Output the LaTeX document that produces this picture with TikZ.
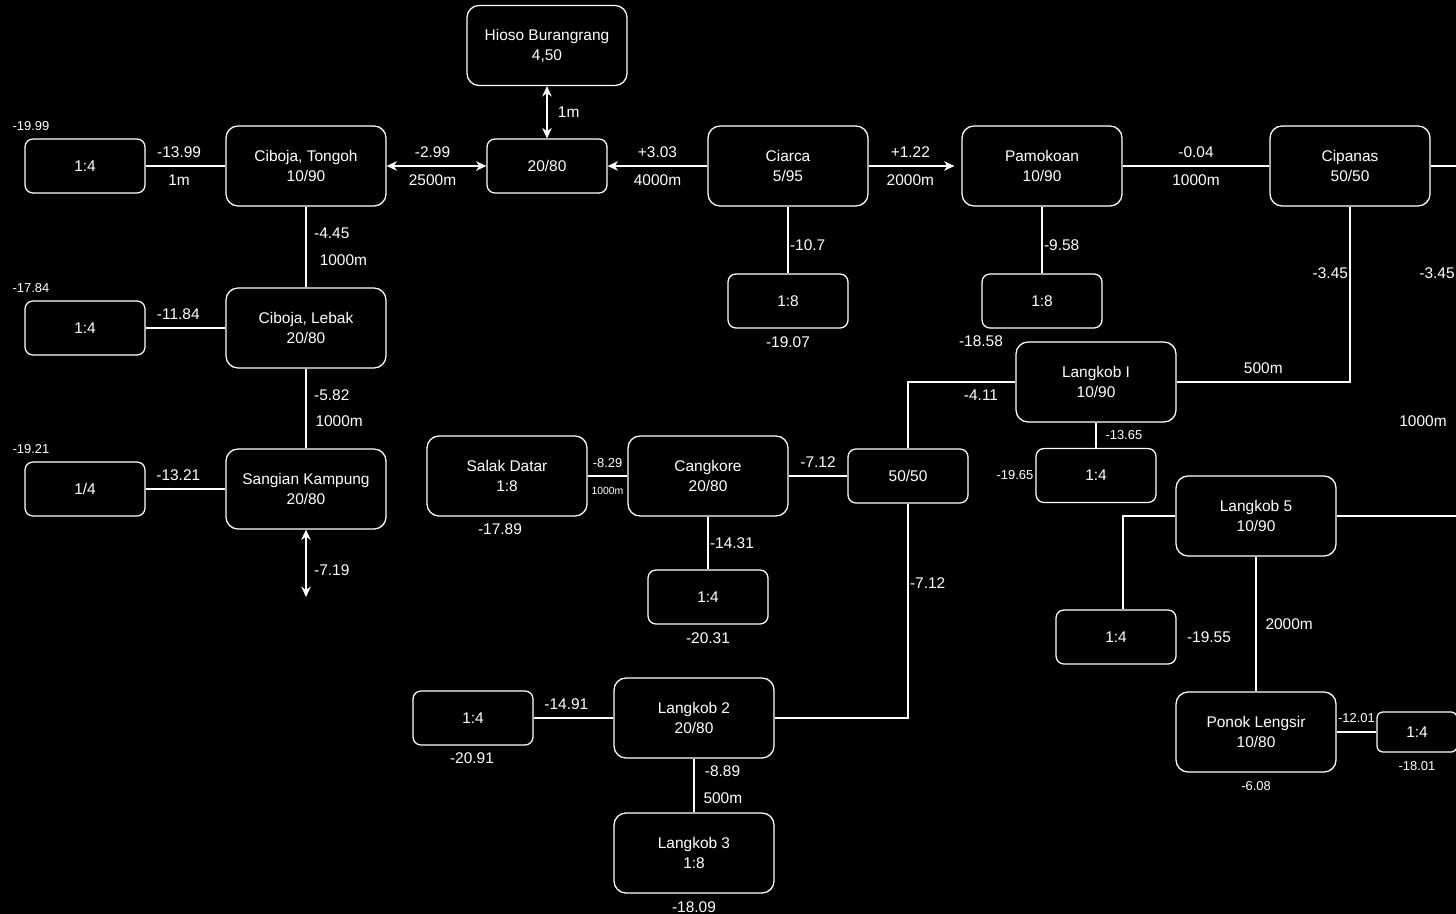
\documentclass[tikz,border=0pt]{standalone}
\usepackage{fontspec}
\setmainfont{Liberation Sans}
\usetikzlibrary{arrows.meta, positioning}

\begin{document}
\begin{tikzpicture}[
        x=0.25mm, y=-0.25mm,
        font=\fontsize{11}{14.2}\selectfont,
        every node/.style={text=white},
        station/.style={rectangle, draw=white, line width=0.9pt, rounded corners=3mm, minimum width=40mm, minimum height=20mm, align=center, inner sep=1pt},
        tapbox/.style={rectangle, draw=white, line width=0.9pt, rounded corners=2mm, minimum width=30mm, minimum height=13.5mm, align=center, inner sep=1pt},
        pipe/.style={draw=white, line width=0.9pt},
        arrow/.style={pipe, -{Stealth[length=2.6mm, width=2.4mm]}},
        twoway/.style={pipe, {Stealth[length=2.6mm, width=2.4mm]}-{Stealth[length=2.6mm, width=2.4mm]}},
        small/.style={font=\fontsize{9.2}{11}\selectfont},
        tiny/.style={font=\fontsize{7.4}{9}\selectfont}
    ]
        \fill[black] (0,0) rectangle (1456,914);
        \useasboundingbox (0,0) rectangle (1456,914);

        % top row
        \node[station] (hioso) at (547,45.5) {Hioso Burangrang\\4,50};
        \node[tapbox] (junction) at (547,166) {20/80};
        \node[station] (tongoh) at (306,166) {Ciboja, Tongoh\\10/90};
        \node[tapbox] (tongohtap) at (85,166) {1:4};
        \node[station] (ciarca) at (788,166) {Ciarca\\5/95};
        \node[tapbox] (ciarcatap) at (788,301) {1:8};
        \node[station] (pamokoan) at (1042,166) {Pamokoan\\10/90};
        \node[tapbox] (pamokoantap) at (1042,301) {1:8};
        \node[station] (cipanas) at (1350,166) {Cipanas\\50/50};
        \coordinate (cipanasout) at (1456,166);

        % left column
        \node[station] (lebak) at (306,328) {Ciboja, Lebak\\20/80};
        \node[tapbox] (lebaktap) at (85,328) {1:4};
        \node[station] (sangian) at (306,489) {Sangian Kampung\\20/80};
        \node[tapbox] (sangiantap) at (85,489) {1/4};
        \coordinate (sangianout) at (306,597);

        % middle
        \node[station] (salak) at (507,476) {Salak Datar\\1:8};
        \node[station] (cangkore) at (708,476) {Cangkore\\20/80};
        \node[tapbox] (cangkoretap) at (708,597) {1:4};
        \node[tapbox] (split) at (908,476) {50/50};
        \node[station] (langkob2) at (694,718) {Langkob 2\\20/80};
        \node[tapbox] (langkob2tap) at (473,718) {1:4};
        \node[station] (langkob3) at (694,853) {Langkob 3\\1:8};

        % right
        \node[station] (langkob1) at (1096,382) {Langkob I\\10/90};
        \node[tapbox] (langkob1tap) at (1096,475.5) {1:4};
        \node[station] (langkob5) at (1256,516) {Langkob 5\\10/90};
        \node[tapbox] (langkob5tap) at (1116,637) {1:4};
        \coordinate (langkob5out) at (1456,516);
        \node[station] (ponok) at (1256,732) {Ponok Lengsir\\10/80};
        \node[tapbox, minimum width=20mm, minimum height=10mm, rounded corners=1.5mm] (ponoktap) at (1417,732) {1:4};

        % connectors
        \draw[pipe] (tongohtap) -- node[pos=0.42, above=2.3pt] {-13.99} node[pos=0.42, below=2.3pt] {1m} (tongoh);
        \draw[twoway] (tongoh) -- node[pos=0.46, above=2.3pt] {-2.99} node[pos=0.46, below=2.3pt] {2500m} (junction);
        \draw[twoway] (hioso) -- node[right=4pt] {1m} (junction);
        \draw[arrow] (ciarca) -- node[above=2.3pt] {+3.03} node[below=2.3pt] {4000m} (junction);
        \draw[arrow, shorten >=1.75mm] (ciarca) -- node[pos=0.45, above=2.3pt] {+1.22} node[pos=0.45, below=2.3pt] {2000m} (pamokoan);
        \draw[pipe] (pamokoan) -- node[above=2.3pt] {-0.04} node[below=2.3pt] {1000m} (cipanas);
        \draw[pipe] (cipanas) -- (cipanasout);
        \draw[pipe] (ciarca) -- node[pos=0.58, right, inner sep=1pt] {-10.7} (ciarcatap);
        \draw[pipe] (pamokoan) -- node[pos=0.58, right, inner sep=1pt] {-9.58} (pamokoantap);
        \draw[pipe] (cipanas) |- node[pos=0.19, left, inner sep=1pt] {-3.45} node[pos=0.75, above=2.3pt] {500m} (langkob1);

        \draw[pipe] (tongoh) -- node[pos=0.33, right=2pt] {-4.45} node[pos=0.66, right=6pt] {1000m} (lebak);
        \draw[pipe] (lebaktap) -- node[pos=0.41, above=2.3pt] {-11.84} (lebak);
        \draw[pipe] (lebak) -- node[pos=0.33, right=2pt] {-5.82} node[pos=0.66, right=3pt] {1000m} (sangian);
        \draw[pipe] (sangiantap) -- node[pos=0.41, above=2.3pt] {-13.21} (sangian);
        \draw[twoway] (sangian) -- node[pos=0.6, right=2pt] {-7.19} (sangianout);

        \draw[pipe] (salak) -- node[small, above=2.5pt] {-8.29} node[tiny, below=4pt] {1000m} (cangkore);
        \draw[pipe] (cangkore) -- node[above=2.3pt] {-7.12} (split);
        \draw[pipe] (cangkore) -- node[right, inner sep=1pt] {-14.31} (cangkoretap);
        \draw[pipe] (split) |- node[pos=0.84, below=2pt] {-4.11} (langkob1);
        \draw[pipe] (split) |- node[pos=0.185, right, inner sep=1pt] {-7.12} (langkob2);
        \draw[pipe] (langkob2tap) -- node[pos=0.41, above=2.3pt] {-14.91} (langkob2);
        \draw[pipe] (langkob2) -- node[pos=0.24, right=4pt] {-8.89} node[pos=0.73, right=3pt] {500m} (langkob3);

        \draw[pipe] (langkob1) -- node[small, right=3pt] {-13.65} (langkob1tap);
        \draw[pipe] (langkob5) -| ([xshift=1.75mm]langkob5tap.north);
        \draw[pipe] (langkob5) -- (langkob5out);
        \draw[pipe] (langkob5) -- node[right=3pt] {2000m} (ponok);
        \draw[pipe] (ponok) -- node[small, above=3pt] {-12.01} (ponoktap);

        % loose levels
        \node[small] (lvltongoh) at (31,126) {-19.99};
        \node[small] (lvllebak) at (31,288) {-17.84};
        \node[small] (lvlsangian) at (31,449) {-19.21};
        \node[below=2pt of ciarcatap] (lvlciarca) {-19.07};
        \node (lvlpamokoan) at (981,341) {-18.58};
        \node (lvlcipanas) at (1437,273) {-3.45};
        \node (lenright) at (1423,421) {1000m};
        \node (lvlsalak) at (500,529) {-17.89};
        \node[below=2pt of cangkoretap] (lvlcangkore) {-20.31};
        \node[small] (lvllangkob1) at (1015,475) {-19.65};
        \node (lvllangkob5) at (1209,637) {-19.55};
        \node[small, below=2.6pt of ponok] (lvlponok) {-6.08};
        \node[small, below=2.6pt of ponoktap] (lvlponoktap) {-18.01};
        \node (lvllangkob2) at (472,758) {-20.91};
        \node[below=2pt of langkob3] (lvllangkob3) {-18.09};
    \end{tikzpicture}
\end{document}
